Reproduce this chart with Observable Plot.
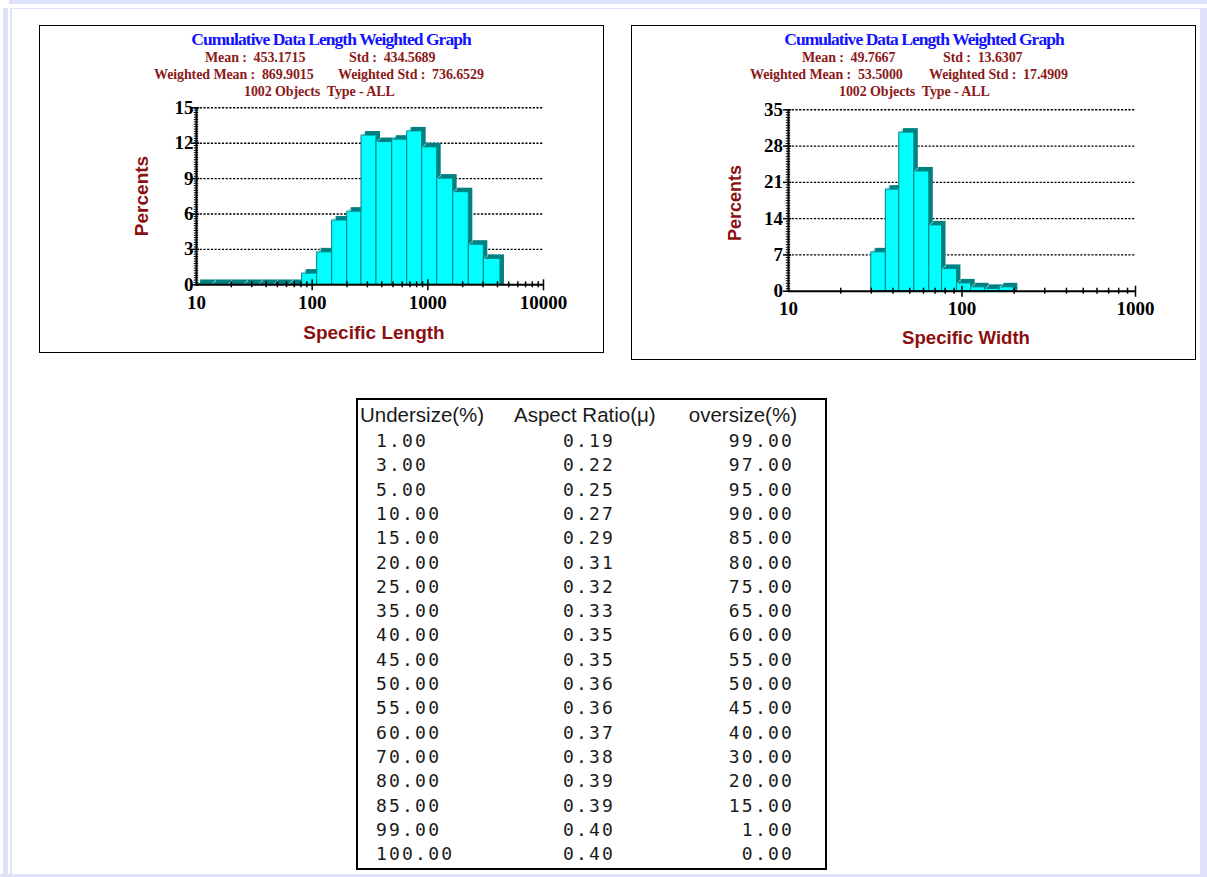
<!DOCTYPE html>
<html><head><meta charset="utf-8">
<script src="https://cdn.jsdelivr.net/npm/d3@7"></script>
<script src="https://cdn.jsdelivr.net/npm/@observablehq/plot@0.6"></script>
<style>
html,body{margin:0;padding:0;}
body{width:1207px;height:877px;position:relative;background:#fff;overflow:hidden;}
.band{position:absolute;background:#dfe0fa;}
.box{position:absolute;border:1.5px solid #000;box-sizing:border-box;}
.t{position:absolute;white-space:pre;line-height:1;}
.c{transform:translate(-50%,-50%);}
.l{transform:translate(0,-50%);}
.r{transform:translate(-100%,-50%);}
.title{font-family:"Liberation Serif",serif;font-weight:bold;color:#1212ff;font-size:17.5px;letter-spacing:-0.95px;}
.stat{font-family:"Liberation Serif",serif;font-weight:bold;color:#8b1a1a;font-size:14px;letter-spacing:-0.1px;}
.axt{font-family:"Liberation Sans",sans-serif;font-weight:bold;color:#8b1010;}
.chart{position:absolute;}
.th{font-family:"Liberation Sans",sans-serif;font-size:20.5px;color:#1a1a1a;}
.td{font-family:"DejaVu Sans Mono",monospace;font-size:18px;letter-spacing:2.2px;color:#1a1a1a;}
</style>
</head><body>
<div class="band" style="left:9px;top:0;width:1198px;height:4px"></div>
<div class="band" style="left:3px;top:8px;width:5px;height:869px"></div>
<div class="band" style="left:10px;top:8px;width:2px;height:869px"></div>
<div class="band" style="left:10px;top:8px;width:1191px;height:1px"></div>
<div class="band" style="left:1200px;top:8px;width:7px;height:869px"></div>
<div class="band" style="left:0;top:874px;width:1207px;height:3px"></div>

<div class="box" style="left:39px;top:25px;width:565px;height:328px"></div>
<div class="box" style="left:631px;top:25px;width:565px;height:335px"></div>
<div class="box" style="left:356px;top:398px;width:471px;height:472px;border-width:2px"></div>

<div id="app"></div>

<script>
// ---------- data ----------
const lengthEdges = [10, 13.6, 18.8, 25.7, 34.6, 46.7, 62.9, 81.9, 110.5, 149, 201, 267, 360, 492, 663, 893, 1205, 1656, 2261, 3048, 4246];
const lengthPercents = [0.07, 0.07, 0.07, 0.07, 0.07, 0.07, 0.07, 0.95, 2.75, 5.45, 6.2, 12.65, 12.1, 12.3, 13.0, 11.65, 9.0, 7.85, 3.4, 2.2];
const widthEdges = [30, 36.4, 43.5, 53.1, 64.8, 76.7, 93.5, 113, 136, 165, 199];
const widthPercents = [7.5, 19.6, 30.6, 23.1, 12.7, 4.3, 1.5, 0.75, 0.45, 0.75];

const lengthXTicks = [10, 100, 1000, 10000];
const widthXTicks = [10, 100, 1000];
const lengthYTicks = [0, 3, 6, 9, 12, 15];
const widthYTicks = [0, 7, 14, 21, 28, 35];

const lengthStats = {title: "Cumulative Data Length Weighted Graph", mean: "Mean :  453.1715", std: "Std :  434.5689",
  wmean: "Weighted Mean :  869.9015", wstd: "Weighted Std :  736.6529", objects: "1002 Objects  Type - ALL"};
const widthStats = {title: "Cumulative Data Length Weighted Graph", mean: "Mean :  49.7667", std: "Std :  13.6307",
  wmean: "Weighted Mean :  53.5000", wstd: "Weighted Std :  17.4909", objects: "1002 Objects  Type - ALL"};

const tableHeaders = ["Undersize(%)", "Aspect Ratio(\u03bc)", "oversize(%)"];
const undersize = [1, 3, 5, 10, 15, 20, 25, 35, 40, 45, 50, 55, 60, 70, 80, 85, 99, 100];
const aspectRatio = [0.19, 0.22, 0.25, 0.27, 0.29, 0.31, 0.32, 0.33, 0.35, 0.35, 0.36, 0.36, 0.37, 0.38, 0.39, 0.39, 0.40, 0.40];
const oversize = [99, 97, 95, 90, 85, 80, 75, 65, 60, 55, 50, 45, 40, 30, 20, 15, 1, 0];

// ---------- helpers ----------
const app = document.getElementById("app");
function addText(cls, txt, x, y, anchor, extraStyle) {
  const d = document.createElement("div");
  d.className = "t " + cls + " " + anchor;
  d.textContent = txt;
  d.style.left = x + "px"; d.style.top = y + "px";
  if (extraStyle) Object.assign(d.style, extraStyle);
  app.appendChild(d);
  return d;
}

function histChart(o) {
  const {edges, pct, xDomain, yTicks, yMinorStep, width, height, ml, mr, mt, mb, xPad, yPad} = o;
  const depth = 4;
  const yMax = yTicks[yTicks.length - 1];
  const data = pct.map((v, i) => ({x1: edges[i], x2: edges[i + 1], y: v}));
  const decadePx = (width - ml - mr) / Math.log10(xDomain[1] / xDomain[0]);
  const pxX = (x, px) => x * Math.pow(10, px / decadePx);
  const unitPx = (height - mt - mb) / yMax;
  const pxY = px => px / unitPx;
  const x0 = xDomain[0];
  const yMinors = d3.range(0, yMax + 1e-9, yMinorStep);
  const xMinors = [];
  for (let dec = xDomain[0]; dec < xDomain[1]; dec *= 10) for (let k = 2; k <= 9; k++) xMinors.push(dec * k);
  return Plot.plot({
    width, height, marginLeft: ml, marginRight: mr, marginTop: mt, marginBottom: mb,
    x: {type: "log", domain: xDomain},
    y: {domain: [0, yMax]},
    style: {fontFamily: "'Liberation Serif', serif", fontSize: "19px", fontWeight: "bold", color: "#000", background: "transparent", overflow: "visible"},
    marks: [
      Plot.ruleY(yTicks.filter(d => d > 0), {x1: x0, x2: xDomain[1], stroke: "#000", strokeWidth: 1.4, strokeDasharray: "2.2,1.5"}),
      // 3D depth (top and right faces)
      Plot.rectY(data, {x1: "x1", x2: "x2", y1: -pxY(depth), y2: "y", fill: "#008080", dx: depth, dy: -depth}),
      // front faces
      Plot.rectY(data, {x1: "x1", x2: "x2", y: "y", fill: "#00ffff", stroke: "#008080", strokeWidth: 1}),
      // top face edges
      Plot.link(data, {x1: "x1", y1: "y", x2: d => pxX(d.x1, depth), y2: d => d.y + pxY(depth), stroke: "#7fcfcf", strokeWidth: 1}),
      Plot.ruleY([0], {x1: x0, x2: xDomain[1], stroke: "#000", strokeWidth: 2}),
      Plot.ruleX([x0], {y1: 0, y2: yMax, stroke: "#000", strokeWidth: 2}),
      Plot.ruleY(yMinors, {x1: pxX(x0, -2.2), x2: pxX(x0, 2.2), stroke: "#000", strokeWidth: 1}),
      Plot.ruleY(yTicks, {x1: pxX(x0, -5), x2: pxX(x0, 3), stroke: "#000", strokeWidth: 1.5}),
      Plot.ruleX(xMinors, {y1: -pxY(3), y2: pxY(3), stroke: "#000", strokeWidth: 1.5}),
      Plot.ruleX(o.xTicks.slice(1), {y1: -pxY(6), y2: pxY(5), stroke: "#000", strokeWidth: 1.5}),
      Plot.axisX({ticks: o.xTicks, tickSize: 0, tickPadding: xPad, tickFormat: d => String(d), label: null}),
      Plot.axisY({ticks: yTicks, tickSize: 0, tickPadding: yPad, tickFormat: d => String(d), label: null})
    ]
  });
}

function place(node, left, top) {
  const w = document.createElement("div");
  w.className = "chart";
  w.style.left = left + "px"; w.style.top = top + "px";
  w.appendChild(node);
  app.appendChild(w);
}

// ---------- left chart ----------
place(histChart({edges: lengthEdges, pct: lengthPercents, xDomain: [10, 10000], xTicks: lengthXTicks,
  yTicks: lengthYTicks, yMinorStep: 0.2, width: 560, height: 245, ml: 156, mr: 57, mt: 7.3, mb: 60.7, xPad: 11, yPad: 3}), 40, 100);

addText("title", lengthStats.title, 331, 40, "c");
addText("stat", lengthStats.mean, 205, 57.5, "l");
addText("stat", lengthStats.std, 349, 57.5, "l");
addText("stat", lengthStats.wmean, 154, 75, "l");
addText("stat", lengthStats.wstd, 338, 75, "l");
addText("stat", lengthStats.objects, 244, 92, "l");
addText("axt", "Specific Length", 374, 332, "c", {fontSize: "19px"});
addText("axt", "Percents", 141, 196, "", {fontSize: "19px", transform: "translate(-50%,-50%) rotate(-90deg)"});

// ---------- right chart ----------
place(histChart({edges: widthEdges, pct: widthPercents, xDomain: [10, 1000], xTicks: widthXTicks,
  yTicks: widthYTicks, yMinorStep: 0.5, width: 560, height: 255, ml: 156, mr: 57, mt: 9.3, mb: 64.3, xPad: 10.5, yPad: 5.5}), 632, 100);

addText("title", widthStats.title, 924, 40, "c");
addText("stat", widthStats.mean, 802, 57.5, "l");
addText("stat", widthStats.std, 943, 57.5, "l");
addText("stat", widthStats.wmean, 750, 75, "l");
addText("stat", widthStats.wstd, 929, 75, "l");
addText("stat", widthStats.objects, 839, 92, "l");
addText("axt", "Specific Width", 966, 338, "c", {fontSize: "18.6px"});
addText("axt", "Percents", 735, 203, "", {fontSize: "18px", transform: "translate(-50%,-50%) rotate(-90deg)"});

// ---------- table ----------
addText("th", tableHeaders[0], 360, 415, "l");
addText("th", tableHeaders[1], 514, 415, "l");
addText("th", tableHeaders[2], 797, 415, "r");
const fmt = d3.format(".2f");
undersize.forEach((u, i) => {
  const y = 441 + i * 24.3;
  addText("td", fmt(u), 376, y, "l");
  addText("td", fmt(aspectRatio[i]), 563, y, "l");
  addText("td", fmt(oversize[i]), 794, y, "r");
});
</script>
</body></html>
